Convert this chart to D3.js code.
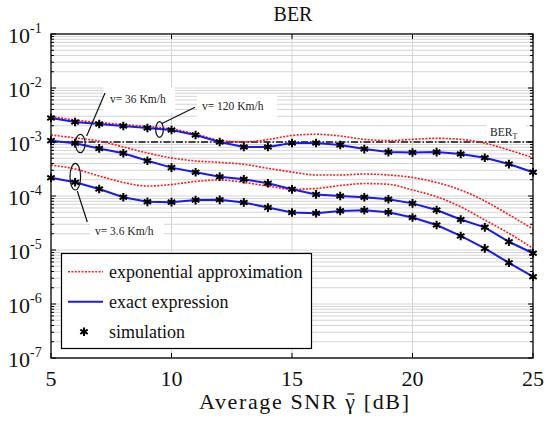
<!DOCTYPE html>
<html>
<head>
<meta charset="utf-8">
<script src="https://cdn.jsdelivr.net/npm/d3@7"></script>
<style>
  body { margin: 0; background: #fff; }
</style>
</head>
<body>
<svg width="546" height="423"></svg>
<script>
// SNR points (dB)
const snr = [5, 6, 7, 8, 9, 10, 11, 12, 13, 14, 15, 16, 17, 18, 19, 20, 21, 22, 23, 24, 25];

// exact expression (also where the simulation stars sit)
const exact120 = [2.78e-3, 2.35e-3, 2.15e-3, 1.98e-3, 1.82e-3, 1.67e-3, 1.35e-3, 1.0e-3, 8.1e-4, 8.1e-4, 9.6e-4,
  9.6e-4, 8.8e-4, 7.4e-4, 6.5e-4, 6.4e-4, 6.5e-4, 6.0e-4, 5.1e-4, 3.9e-4, 2.75e-4];
const exact36 = [1.06e-3, 9.5e-4, 7.6e-4, 6.2e-4, 4.5e-4, 3.35e-4, 2.75e-4, 2.28e-4, 2.04e-4, 1.72e-4, 1.33e-4,
  1.07e-4, 1.0e-4, 9.5e-5, 8.7e-5, 7.3e-5, 5.5e-5, 3.67e-5, 2.63e-5, 1.42e-5, 8.7e-6];
const exact3_6 = [2.18e-4, 1.8e-4, 1.35e-4, 9.5e-5, 7.8e-5, 7.7e-5, 8.4e-5, 8.5e-5, 7.6e-5, 6.1e-5, 4.95e-5,
  4.8e-5, 5.3e-5, 5.45e-5, 5.0e-5, 4.0e-5, 2.9e-5, 1.82e-5, 1.07e-5, 5.8e-6, 3.2e-6];

// exponential approximation
const approx120 = [2.97e-3, 2.55e-3, 2.3e-3, 2.11e-3, 1.94e-3, 1.74e-3, 1.41e-3, 1.07e-3, 1.0e-3, 1.11e-3, 1.32e-3,
  1.39e-3, 1.29e-3, 1.12e-3, 1.06e-3, 1.12e-3, 1.17e-3, 1.12e-3, 9.5e-4, 7.1e-4, 5.1e-4];
const approx36 = [1.35e-3, 1.19e-3, 1.04e-3, 8.1e-4, 6.25e-4, 5.06e-4, 4.45e-4, 4.2e-4, 3.86e-4, 3.26e-4, 2.78e-4,
  2.45e-4, 2.45e-4, 2.55e-4, 2.45e-4, 2.2e-4, 1.78e-4, 1.29e-4, 8.1e-5, 4.5e-5, 2.45e-5];
const approx3_6 = [3.75e-4, 3.16e-4, 2.35e-4, 1.78e-4, 1.53e-4, 1.63e-4, 1.86e-4, 1.98e-4, 1.78e-4, 1.53e-4, 1.33e-4,
  1.38e-4, 1.56e-4, 1.7e-4, 1.65e-4, 1.29e-4, 9.7e-5, 6.3e-5, 3.6e-5, 2.04e-5, 1.07e-5];

const berTarget = 1e-3;
const xTicks = [5, 10, 15, 20, 25];
const yExponents = [-1, -2, -3, -4, -5, -6, -7];
const legendLabels = ['exponential approximation', 'exact expression', 'simulation'];

const svg = d3.select('svg');
const plotL = 51, plotR = 533, plotT = 34, plotB = 358;
const serif = "'Liberation Serif', 'DejaVu Serif', serif";

const x = d3.scaleLinear().domain([5, 25]).range([plotL, plotR]);
const y = d3.scaleLog().domain([1e-7, 1e-1]).range([plotB, plotT]);

// grid
const grid = svg.append('g');
const minorVals = [];
for (let e = -7; e < -1; e++) {
  for (let m = 1; m < 10; m++) minorVals.push(m * Math.pow(10, e));
}
grid.selectAll('line.h')
  .data(minorVals)
  .enter().append('line')
  .attr('x1', plotL).attr('x2', plotR)
  .attr('y1', d => y(d)).attr('y2', d => y(d))
  .attr('stroke', '#d4d4d4').attr('stroke-width', 1);
grid.selectAll('line.v')
  .data([10, 15, 20])
  .enter().append('line')
  .attr('x1', d => x(d)).attr('x2', d => x(d))
  .attr('y1', plotT).attr('y2', plotB)
  .attr('stroke', '#d4d4d4').attr('stroke-width', 1);

// white boxes behind the annotations
const boxes = [[103, 87, 72, 26], [197, 95, 80, 22], [90, 222, 74, 18], [486, 125, 40, 15]];
svg.append('g').selectAll('rect')
  .data(boxes)
  .enter().append('rect')
  .attr('x', d => d[0]).attr('y', d => d[1]).attr('width', d => d[2]).attr('height', d => d[3])
  .attr('fill', '#fff');

// BER target line
svg.append('line')
  .attr('x1', x(5)).attr('x2', x(25))
  .attr('y1', y(berTarget)).attr('y2', y(berTarget))
  .attr('stroke', '#111').attr('stroke-width', 1.3)
  .attr('stroke-dasharray', '7,2,1.5,2');

const lineOf = (vals, curve) => d3.line()
  .x((d, i) => x(snr[i]))
  .y(d => y(d))
  .curve(curve)(vals);

[approx120, approx36, approx3_6].forEach(vals => {
  svg.append('path')
    .attr('d', lineOf(vals, d3.curveMonotoneX))
    .attr('fill', 'none')
    .attr('stroke', '#ff1a1a').attr('stroke-width', 1.6)
    .attr('stroke-dasharray', '2,1.4');
});

[exact120, exact36, exact3_6].forEach(vals => {
  svg.append('path')
    .attr('d', lineOf(vals, d3.curveLinear))
    .attr('fill', 'none')
    .attr('stroke', '#1a1aee').attr('stroke-width', 2);
});

const star = d3.symbol().type(d3.symbolAsterisk).size(52);
[exact120, exact36, exact3_6].forEach(vals => {
  svg.append('g').selectAll('path')
    .data(vals)
    .enter().append('path')
    .attr('d', star)
    .attr('transform', (d, i) => `translate(${x(snr[i])},${y(d)})`)
    .attr('fill', 'none')
    .attr('stroke', '#000').attr('stroke-width', 2);
});

// annotations
const ann = svg.append('g').attr('font-size', 11.5).attr('fill', '#222').attr('font-family', serif);
ann.append('text').attr('x', 110).attr('y', 103).text('v= 36 Km/h');
ann.append('text').attr('x', 202).attr('y', 110).text('v= 120 Km/h');
ann.append('text').attr('x', 95).attr('y', 235).text('v= 3.6 Km/h');
const bt = ann.append('text').attr('x', 490).attr('y', 136);
bt.append('tspan').text('BER');
bt.append('tspan').attr('font-size', 8).attr('dy', 3).text('T');

const ell = svg.append('g').attr('fill', 'none').attr('stroke', '#111').attr('stroke-width', 1.2);
ell.append('ellipse').attr('cx', 80.3).attr('cy', 143.5).attr('rx', 4.8).attr('ry', 9.2);
ell.append('ellipse').attr('cx', 159.5).attr('cy', 129.5).attr('rx', 3.8).attr('ry', 7.8);
ell.append('ellipse').attr('cx', 75.3).attr('cy', 176.7).attr('rx', 5.3).attr('ry', 13.3);
ell.append('line').attr('x1', 86.7).attr('y1', 136).attr('x2', 105).attr('y2', 93);
ell.append('line').attr('x1', 162).attr('y1', 123.5).attr('x2', 195).attr('y2', 107.3);
ell.append('line').attr('x1', 77.3).attr('y1', 191).attr('x2', 87.3).attr('y2', 222);

// axis frame and ticks
svg.append('rect')
  .attr('x', plotL).attr('y', plotT).attr('width', plotR - plotL).attr('height', plotB - plotT)
  .attr('fill', 'none').attr('stroke', '#000').attr('stroke-width', 1.3);

const ticks = svg.append('g').attr('stroke', '#000').attr('stroke-width', 1);
xTicks.forEach(t => {
  ticks.append('line').attr('x1', x(t)).attr('x2', x(t)).attr('y1', plotB).attr('y2', plotB - 5);
  ticks.append('line').attr('x1', x(t)).attr('x2', x(t)).attr('y1', plotT).attr('y2', plotT + 5);
});
minorVals.concat([1e-1]).forEach(v => {
  const len = Math.abs(Math.log10(v) - Math.round(Math.log10(v))) < 1e-9 ? 5 : 3;
  ticks.append('line').attr('x1', plotL).attr('x2', plotL + len).attr('y1', y(v)).attr('y2', y(v));
  ticks.append('line').attr('x1', plotR).attr('x2', plotR - len).attr('y1', y(v)).attr('y2', y(v));
});

// tick labels
const labels = svg.append('g').attr('fill', '#111').attr('font-family', serif);
xTicks.forEach(t => {
  labels.append('text').attr('x', x(t)).attr('y', 386)
    .attr('text-anchor', 'middle').attr('font-size', 22).text(t);
});
yExponents.forEach(e => {
  const t = labels.append('text').attr('x', 8).attr('y', y(Math.pow(10, e)) + 9).attr('font-size', 22);
  t.append('tspan').text('10');
  t.append('tspan').attr('font-size', 14).attr('dy', -10).text(e);
});

// title and axis label
svg.append('text').attr('x', 293).attr('y', 21).attr('text-anchor', 'middle').attr('font-family', serif)
  .attr('font-size', 20).attr('fill', '#111').text('BER');
const xLabel = svg.append('text').attr('x', 199).attr('y', 409).attr('font-family', serif)
  .attr('font-size', 22).attr('fill', '#111')
  .attr('textLength', 210).attr('lengthAdjust', 'spacing')
  .text('Average SNR \u03B3 [dB]');
// bar over the gamma
const g = xLabel.node().getExtentOfChar(12);
svg.append('line')
  .attr('x1', g.x + 2).attr('x2', g.x + g.width - 1)
  .attr('y1', 394).attr('y2', 394)
  .attr('stroke', '#111').attr('stroke-width', 1.3);

// legend
const lg = svg.append('g');
lg.append('rect').attr('x', 61.5).attr('y', 253.5).attr('width', 250).attr('height', 95)
  .attr('fill', '#fff').attr('stroke', '#000').attr('stroke-width', 1.2);
const rows = [271.7, 301.7, 331.7];
lg.append('line').attr('x1', 68).attr('x2', 103).attr('y1', rows[0]).attr('y2', rows[0])
  .attr('stroke', '#ff1a1a').attr('stroke-width', 1.6).attr('stroke-dasharray', '2,1.4');
lg.append('line').attr('x1', 68).attr('x2', 103).attr('y1', rows[1]).attr('y2', rows[1])
  .attr('stroke', '#1a1aee').attr('stroke-width', 2);
lg.append('path').attr('d', star).attr('transform', `translate(84,${rows[2]})`)
  .attr('fill', 'none').attr('stroke', '#000').attr('stroke-width', 2);
legendLabels.forEach((l, i) => {
  lg.append('text').attr('x', 109).attr('y', rows[i] + 6).attr('font-size', 18).attr('font-family', serif)
    .attr('fill', '#111').text(l);
});
</script>
</body>
</html>
